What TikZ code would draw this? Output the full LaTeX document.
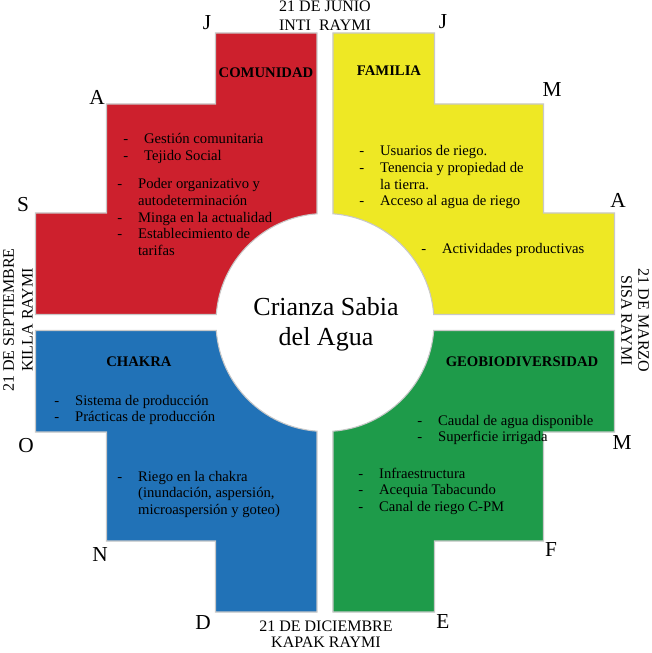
\documentclass[tikz,border=0pt]{standalone}
\usepackage{fontspec}
\setmainfont{Liberation Serif}
\definecolor{rojo}{RGB}{205,32,45}
\definecolor{amarillo}{RGB}{238,232,36}
\definecolor{azul}{RGB}{33,114,183}
\definecolor{verde}{RGB}{30,155,74}
\definecolor{borde}{RGB}{200,200,200}
\def\lista#1{\begin{tabular}[t]{@{}l@{\hspace{12pt}}l@{}}#1\end{tabular}}
\tikzset{
  cuadro/.style={draw=borde,line width=0.8pt},
  mes/.style={font=\fontsize{16}{16}\selectfont,inner sep=0pt},
  fecha/.style={align=center,inner sep=0pt},
  titulo/.style={font=\fontsize{11}{12}\selectfont\bfseries,inner sep=0pt},
  item/.style={font=\fontsize{11}{12.4}\selectfont,anchor=base west,inner sep=0pt},
  centro/.style={font=\fontsize{19.5}{22.5}\selectfont,align=center,inner sep=0pt}
}

\begin{document}
\begin{tikzpicture}[x=0.75pt,y=0.75pt]
  \useasboundingbox (-325,-330.5) rectangle (326,322.5);
  % cuadrantes
  \draw[cuadro,fill=rojo] (-8,289.5) -- (-8,108.7) arc[start angle=94.21,end angle=175.79,radius=109]
    -- (-289.5,8) -- (-289.5,109.5) -- (-218.5,109.5) -- (-218.5,218.5) -- (-109.5,218.5) -- (-109.5,289.5) -- cycle;
  \draw[cuadro,fill=amarillo] (8,289.5) -- (8,108.7) arc[start angle=85.79,end angle=4.21,radius=109]
    -- (289.5,8) -- (289.5,109.5) -- (218.5,109.5) -- (218.5,218.5) -- (109.5,218.5) -- (109.5,289.5) -- cycle;
  \draw[cuadro,fill=azul] (-8,-289.5) -- (-8,-108.7) arc[start angle=265.79,end angle=184.21,radius=109]
    -- (-289.5,-8) -- (-289.5,-109.5) -- (-218.5,-109.5) -- (-218.5,-218.5) -- (-109.5,-218.5) -- (-109.5,-289.5) -- cycle;
  \draw[cuadro,fill=verde] (8,-289.5) -- (8,-108.7) arc[start angle=274.21,end angle=355.79,radius=109]
    -- (289.5,-8) -- (289.5,-109.5) -- (218.5,-109.5) -- (218.5,-218.5) -- (109.5,-218.5) -- (109.5,-289.5) -- cycle;

  % centro
  \draw (1,-1.5) node[centro] (crianza) {Crianza Sabia\\del Agua};

  % fechas
  \draw (0,306.3) node[fecha,font=\fontsize{12}{14.25}\selectfont] (junio) {21 DE JUNIO\\INTI\ \ RAYMI};
  \draw (1,-311.7) node[fecha,font=\fontsize{12}{12}\selectfont] (diciembre) {21 DE DICIEMBRE\\KAPAK RAYMI};
  \draw (-307,2.5) node[fecha,rotate=90,font=\fontsize{12}{14}\selectfont] (septiembre) {21 DE SEPTIEMBRE\\KILLA RAYMI};
  \draw (310,2) node[fecha,rotate=-90,font=\fontsize{12}{12.75}\selectfont] (marzo) {21 DE MARZO\\SISA RAYMI};

  % meses
  \draw (-118,299.5) node[mes] (jun) {J};
  \draw (-228,225.5) node[mes] (ago) {A};
  \draw (-302,117.5) node[mes] (sep) {S};
  \draw (-299,-123.5) node[mes] (oct) {O};
  \draw (-225,-232.5) node[mes] (nov) {N};
  \draw (-122,-300.5) node[mes] (dic) {D};
  \draw (118,-299.5) node[mes] (ene) {E};
  \draw (226,-227.5) node[mes] (feb) {F};
  \draw (297,-120.5) node[mes] (mar) {M};
  \draw (293,122.5) node[mes] (abr) {A};
  \draw (227,232.5) node[mes] (may) {M};
  \draw (118,300.5) node[mes] (jul) {J};

  % comunidad
  \draw (-59,249.5) node[titulo] (comunidad) {COMUNIDAD};
  \draw (-202,178.5) node[item] (com1) {\lista{- & Gestión comunitaria\\ - & Tejido Social}};
  \draw (-208,133.5) node[item] (com2) {\lista{- & Poder organizativo y\\ & autodeterminación\\ - & Minga en la actualidad\\ - & Establecimiento de\\ & tarifas}};

  % familia
  \draw (64,251.5) node[titulo] (familia) {FAMILIA};
  \draw (34,166.5) node[item] (fam1) {\lista{- & Usuarios de riego.\\ - & Tenencia y propiedad de\\ & la tierra.\\ - & Acceso al agua de riego}};
  \draw (96,68.5) node[item] (fam2) {\lista{- & Actividades productivas}};

  % chakra
  \draw (-186,-39.5) node[titulo] (chakra) {CHAKRA};
  \draw (-271,-82.5) node[item] (cha1) {\lista{- & Sistema de producción\\ - & Prácticas de producción}};
  \draw (-208,-158.5) node[item] (cha2) {\lista{- & Riego en la chakra\\ & (inundación, aspersión,\\ & microaspersión y goteo)}};

  % geobiodiversidad
  \draw (197,-39.5) node[titulo] (geo) {GEOBIODIVERSIDAD};
  \draw (92,-102.5) node[item] (geo1) {\lista{- & Caudal de agua disponible\\ - & Superficie irrigada}};
  \draw (33,-155.5) node[item] (geo2) {\lista{- & Infraestructura\\ - & Acequia Tabacundo\\ - & Canal de riego C-PM}};
\end{tikzpicture}
\end{document}
